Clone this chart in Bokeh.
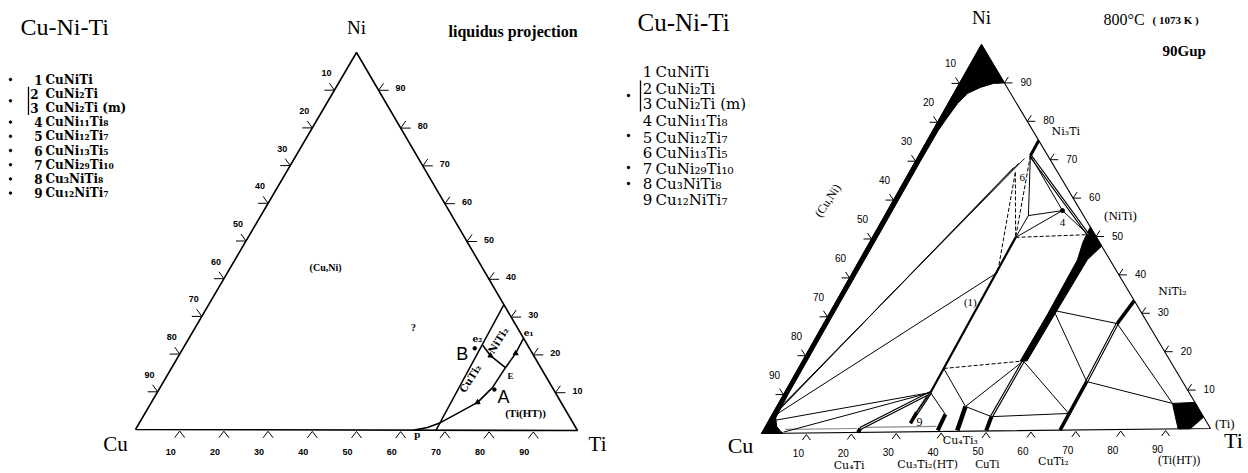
import numpy as np
from bokeh.plotting import figure
from bokeh.models import Range1d
from bokeh.core.properties import value
from bokeh.embed import file_html
from bokeh.resources import INLINE

# ---------------- data (compositions in at.%: (Ni, Ti); Cu = 100 - Ni - Ti) ----------------
TICK_VALUES = [10, 20, 30, 40, 50, 60, 70, 80, 90]

LEGEND_NUMBERS = ["1", "2", "3", "4", "5", "6", "7", "8", "9"]
LEGEND_PHASES = ["CuNiTi", "CuNi₂Ti", "CuNi₂Ti (m)", "CuNi₁₁Ti₈", "CuNi₁₂Ti₇",
                 "CuNi₁₃Ti₅", "CuNi₂₉Ti₁₀", "Cu₃NiTi₈", "Cu₁₂NiTi₇"]
LEFT_BULLET_ROWS = [0, 1.5, 3, 4, 5, 6, 7, 8]
RIGHT_BULLET_ROWS = [1.5, 4, 6, 7]

# --- left panel: liquidus projection ---
LIQ_LINE_NI = [33.3, 0.0]          # NiTi2 - CuTi2 boundary
LIQ_LINE_TI = [66.7, 68.0]
LIQ_P_E_NI = [0.0, 0.7, 2.0, 7.4, 11.3, 16.6]
LIQ_P_E_TI = [63.0, 65.7, 68.0, 73.7, 75.1, 75.4]
LIQ_E_E1_NI = [16.6, 20.4, 24.3]
LIQ_E_E1_TI = [75.4, 75.8, 75.6]
LIQ_E2_E_NI = [22.5, 19.8, 16.6]
LIQ_E2_E_TI = [67.3, 70.4, 75.4]
LIQ_ARROW_NI = [7.4, 20.4, 19.8]
LIQ_ARROW_TI = [73.7, 75.8, 70.4]
LIQ_ALLOY_NI = [21.7, 10.8]        # B, A
LIQ_ALLOY_TI = [65.9, 75.8]
LIQ_LABELS = ["(Cu,Ni)", "?", "B", "A", "E", "e₂", "e₁", "p", "(Ti(HT))"]
LIQ_LABEL_NI = [43.0, 27.2, 20.3, 8.7, 14.3, 24.3, 25.7, -0.9, 4.5]
LIQ_LABEL_TI = [21.5, 49.3, 63.8, 78.9, 77.7, 65.2, 76.1, 64.2, 86.0]
LIQ_ROT_LABELS = ["NiTi₂", "CuTi₂"]
LIQ_ROT_NI = [23.8, 13.7]
LIQ_ROT_TI = [70.2, 68.9]

# --- right panel: 800 °C isothermal section ---
CUNI_BOUND_NI = [90.0, 89.9, 88.9, 87.4, 84.8, 81.2, 77.9, 70, 50, 30, 10, 4.0, 1.8, 0.5, 0.0]
CUNI_BOUND_TI = [10.0, 7.6, 5.2, 3.1, 2.1, 1.6, 1.2, 1.1, 1.1, 1.0, 1.0, 1.2, 2.5, 4.0, 4.8]
B2_NI = [52.5, 47.5, 44.0, 30.0, 18.0, 18.0, 30.0, 44.0, 48.5]
B2_TI = [47.5, 52.5, 51.0, 50.6, 50.3, 48.8, 49.0, 48.8, 47.8]
BTI_NI = [6.6, 6.8, 2.9, 0.0, 0.0, 2.9]
BTI_TI = [88.3, 93.2, 97.0, 95.5, 92.8, 90.8]

THICK_PHASES = [  # (start, end, width)
    ((50.0, 32.1), (10.1, 32.7), 2.2),   # (1) CuNiTi
    ((75.0, 25.0), (71.1, 25.05), 3.0),  # Ni3Ti
    ((33.3, 66.7), (27.4, 65.8), 3.5),   # NiTi2
    ((0.0, 66.5), (12.5, 66.3), 3.5),    # CuTi2
    ((0.0, 21.5), (1.0, 21.5), 4.0),     # Cu4Ti
    ((2.2, 32.1), (5.0, 32.1), 3.5),     # 9
    ((0.3, 39.1), (4.4, 38.8), 4.0),     # Cu3Ti2
    ((0.2, 43.5), (6.4, 42.3), 4.5),     # Cu4Ti3
    ((0.1, 50.0), (3.7, 49.4), 4.0),     # CuTi
]
SOLID_TIES = [
    ((5.0, 1.0), (41.0, 32.5)), ((3.3, 1.0), (10.1, 32.7)), ((0.3, 4.8), (10.1, 32.7)),
    ((10.1, 32.7), (5.0, 32.1)), ((10.1, 32.7), (4.4, 38.8)), ((16.3, 32.6), (6.4, 42.3)),
    ((6.4, 42.3), (3.7, 49.4)), ((18.0, 49.5), (6.4, 42.3)), ((18.0, 49.5), (4.3, 66.3)),
    ((3.7, 49.4), (4.3, 66.3)), ((31.0, 49.9), (27.4, 65.8)), ((31.0, 49.9), (12.5, 66.3)),
    ((12.5, 66.3), (6.6, 88.3)), ((27.4, 65.8), (6.6, 88.3)),
    ((71.1, 25.05), (55.6, 32.2)), ((71.1, 25.05), (56.8, 39.2)), ((56.8, 39.2), (55.6, 32.2)),
    ((56.8, 39.2), (50.0, 32.1)), ((56.8, 39.2), (50.5, 48.0)), ((55.6, 32.2), (50.0, 32.1)),
]
DASHED_TIES = [
    ((16.3, 32.6), (18.0, 49.5)), ((50.0, 32.1), (50.5, 48.0)), ((66.8, 23.8), (41.0, 32.5)),
    ((66.8, 23.8), (50.0, 32.1)), ((71.1, 25.05), (50.0, 32.1)),
]
DOUBLE_TIES = [
    ((10.1, 32.7), (1.0, 21.5)), ((10.1, 32.7), (3.5, 32.1)), ((18.0, 49.5), (3.7, 49.4)),
    ((27.4, 65.8), (12.5, 66.3)), ((71.1, 25.05), (50.5, 48.0)),
]
TRIPLE_TIES = [
    ((6.0, 1.0), (68.1, 22.8)), ((6.5, 1.0), (69.2, 23.4)), ((7.0, 1.0), (70.4, 24.1)),
]
BASE_TIES = [((0.5, 5.0), (0.5, 21.0)), ((0.8, 22.0), (0.8, 38.5))]
PHASE_DOT_NI = [56.8]
PHASE_DOT_TI = [39.2]
SEC_LABELS = ["(1)", "6", "4", "9", "Ni₃Ti", "(NiTi)", "NiTi₂", "(Ti)"]
SEC_LABEL_NI = [33.3, 65.5, 53.7, 2.6, 77.3, 55.4, 35.6, 1.2]
SEC_LABEL_TI = [30.2, 26.0, 40.7, 33.9, 29.9, 52.8, 74.1, 102.6]
BASE_PHASES = ["Cu₄Ti", "Cu₃Ti₂(HT)", "Cu₄Ti₃", "CuTi", "CuTi₂", "(Ti(HT))"]
BASE_PHASE_TI = [19.5, 37.0, 44.3, 50.3, 65.0, 93.0]

# ---------------- layout (pixel positions of triangle corners: Cu, Ni, Ti) ----------------
LEFT_V = [(135, 429), (356, 52), (577, 430)]
RIGHT_V = [(761, 433), (981, 44), (1210, 428)]
SERIF = "Liberation Serif"
SUBSERIF = "DejaVu Serif"
SANS = "Liberation Sans"

W, H = 1248, 473
p = figure(width=W, height=H, x_range=Range1d(0, W), y_range=Range1d(H, 0),
           output_backend="svg", toolbar_location=None, min_border=0)
p.axis.visible = False
p.grid.visible = False
p.outline_line_color = None
p.background_fill_color = "white"


def tern(V, ni, ti):
    ni = np.asarray(ni, dtype=float) / 100.0
    ti = np.asarray(ti, dtype=float) / 100.0
    cu = 1.0 - ni - ti
    x = cu * V[0][0] + ni * V[1][0] + ti * V[2][0]
    y = cu * V[0][1] + ni * V[1][1] + ti * V[2][1]
    return x, y


def txt(x, y, s, size, font=SERIF, style="normal", align="left", baseline="middle", angle=0.0):
    p.text(x=list(np.atleast_1d(x)), y=list(np.atleast_1d(y)), text=list(np.atleast_1d(s)),
           text_font=value(font), text_font_size=f"{size}px", text_font_style=style,
           text_align=align, text_baseline=baseline, angle=angle, text_color="black")


def pairs(V, plist, dx=0.0, dy=0.0):
    xs, ys = [], []
    for (a, b) in plist:
        x, y = tern(V, [a[0], b[0]], [a[1], b[1]])
        xs.append([float(v) + dx for v in x])
        ys.append([float(v) + dy for v in y])
    return xs, ys


def triangle(V, lw):
    x, y = tern(V, [0, 100, 0, 0], [0, 0, 100, 0])
    p.line(list(x), list(y), line_color="black", line_width=lw)


def ticks(V, size, lab_size, lab_font, lab_style, left_off, right_off, base_off):
    xs, ys = [], []
    L, d, h = size
    for v in TICK_VALUES:
        x, y = tern(V, 100 - v, 0)
        x, y = float(x), float(y)
        xs += [[x - L, x], [x - d, x]]
        ys += [[y, y], [y - h, y]]
        txt(x + left_off[0], y + left_off[1], str(v), lab_size, lab_font, lab_style, "center")
        x, y = tern(V, v, 100 - v)
        x, y = float(x), float(y)
        xs += [[x, x + L], [x, x + d]]
        ys += [[y, y], [y, y - h]]
        txt(x + right_off[0], y + right_off[1], str(v), lab_size, lab_font, lab_style, "left")
        x, y = tern(V, 0, v)
        x, y = float(x), float(y)
        xs += [[x - d, x, x + d]]
        ys += [[y + h + 1, y + 1.5, y + h + 1]]
        txt(x + base_off[0], y + base_off[1], str(v), lab_size, lab_font, lab_style, "center")
    p.multi_line(xs, ys, line_color="black", line_width=1)


def has_sub(s):
    return any(ch in s for ch in "₀₁₂₃₄₅₆₇₈₉")


# ================= LEFT PANEL =================
txt(20, 26, "Cu-Ni-Ti", 24)
txt(448, 31, "liquidus projection", 16, style="bold")
rows_l = [79 + 14.2 * i for i in range(9)]
num_x_l = [38, 34, 34, 38, 38, 38, 38, 38, 38]
txt(num_x_l, rows_l, LEGEND_NUMBERS, 12, SUBSERIF, style="bold", align="center")
txt([45] * 9, rows_l, LEGEND_PHASES, 12, SUBSERIF, style="bold")
p.scatter([10] * len(LEFT_BULLET_ROWS), [79 + 14.2 * r for r in LEFT_BULLET_ROWS],
          size=2.5, color="black")
p.line([28, 28], [rows_l[1] - 7, rows_l[2] + 7], line_color="black", line_width=1.3)

triangle(LEFT_V, 1.6)
ticks(LEFT_V, (10, 5, 7), 9, SANS, "bold", (-8, -17), (17, -2), (-9, 22))
cx, cy = LEFT_V[0]; txt(cx - 20, cy + 14, "Cu", 21, align="center")
cx, cy = LEFT_V[2]; txt(cx + 20, cy + 13, "Ti", 21, align="center")
cx, cy = LEFT_V[1]; txt(cx, cy - 25, "Ni", 19, align="center")

for ni, ti, lw in [(LIQ_LINE_NI, LIQ_LINE_TI, 1.5), (LIQ_P_E_NI, LIQ_P_E_TI, 1.6),
                   (LIQ_E_E1_NI, LIQ_E_E1_TI, 1.6), (LIQ_E2_E_NI, LIQ_E2_E_TI, 1.6)]:
    x, y = tern(LEFT_V, ni, ti)
    p.line(list(x), list(y), line_color="black", line_width=lw)
x, y = tern(LEFT_V, LIQ_ARROW_NI, LIQ_ARROW_TI)
p.scatter(list(x), list(y), marker="triangle", size=5, color="black")
x, y = tern(LEFT_V, LIQ_ALLOY_NI, LIQ_ALLOY_TI)
p.scatter(list(x), list(y), size=3.5, color="black")
x, y = tern(LEFT_V, LIQ_LABEL_NI, LIQ_LABEL_TI)
sizes = [10, 10, 18, 18, 9, 9, 9, 11, 11]
fonts = [SERIF, SERIF, SANS, SANS, SERIF, SUBSERIF, SUBSERIF, SERIF, SERIF]
for xi, yi, s, sz, f in zip(x, y, LIQ_LABELS, sizes, fonts):
    txt(float(xi), float(yi), s, sz, f, "normal" if f == SANS else "bold", "center")
x, y = tern(LEFT_V, LIQ_ROT_NI, LIQ_ROT_TI)
for xi, yi, s in zip(x, y, LIQ_ROT_LABELS):
    txt(float(xi), float(yi), s, 10, SUBSERIF, "bold", "center", angle=1.0)

# ================= RIGHT PANEL =================
txt(637, 22, "Cu-Ni-Ti", 25)
txt(1103, 19, "800°C", 16)
txt(1152, 19, "( 1073 K )", 11, style="bold")
txt(1162, 50, "90Gup", 15, style="bold")
rows_r = [71, 88, 103, 120, 137, 152, 168, 183, 199]
txt([647] * 9, rows_r, LEGEND_NUMBERS, 15, SUBSERIF, align="center")
txt([655] * 9, rows_r, LEGEND_PHASES, 15, SUBSERIF)
p.scatter([628] * len(RIGHT_BULLET_ROWS), [71 + 16 * r for r in RIGHT_BULLET_ROWS],
          size=2.5, color="black")
p.line([640, 640], [rows_r[1] - 8, rows_r[2] + 8], line_color="black", line_width=1.3)

# filled solid-solution regions
bx, by = tern(RIGHT_V, [100] + CUNI_BOUND_NI + [0], [0] + CUNI_BOUND_TI + [0])
p.patch(list(bx), list(by), fill_color="black", line_color="black", line_width=1)
bx, by = tern(RIGHT_V, B2_NI, B2_TI)
p.patch(list(bx), list(by), fill_color="black", line_color="black", line_width=1)
bx, by = tern(RIGHT_V, BTI_NI, BTI_TI)
p.patch(list(bx), list(by), fill_color="black", line_color="black", line_width=1)

triangle(RIGHT_V, 1.1)
ticks(RIGHT_V, (8, 4, 6), 10, SANS, "normal", (-9, -20), (16, -1), (-8, 20))
cx, cy = RIGHT_V[0]; txt(cx - 21, cy + 12, "Cu", 22, align="center")
cx, cy = RIGHT_V[2]; txt(cx + 23, cy + 12, "Ti", 22, align="center")
cx, cy = RIGHT_V[1]; txt(cx, cy - 27, "Ni", 19, align="center")

xs, ys = pairs(RIGHT_V, BASE_TIES, dy=-2)
p.multi_line(xs, ys, line_color="#8a8a8a", line_width=1.2)
xs, ys = pairs(RIGHT_V, TRIPLE_TIES)
p.multi_line(xs, ys, line_color="black", line_width=0.9)
xs, ys = pairs(RIGHT_V, DOUBLE_TIES)
p.multi_line(xs, ys, line_color="black", line_width=3.2)
p.multi_line(xs, ys, line_color="white", line_width=1.0)
xs, ys = pairs(RIGHT_V, SOLID_TIES)
p.multi_line(xs, ys, line_color="black", line_width=1.0)
xs, ys = pairs(RIGHT_V, DASHED_TIES)
p.multi_line(xs, ys, line_color="black", line_width=1.0, line_dash="4 2")
for a, b, w in THICK_PHASES:
    x, y = tern(RIGHT_V, [a[0], b[0]], [a[1], b[1]])
    p.line(list(x), list(y), line_color="black", line_width=w)
x, y = tern(RIGHT_V, PHASE_DOT_NI, PHASE_DOT_TI)
p.scatter(list(x), list(y), size=4, color="black")

x, y = tern(RIGHT_V, SEC_LABEL_NI, SEC_LABEL_TI)
sizes = [11, 11, 11, 12, 11, 13, 11, 13]
for xi, yi, s, sz in zip(x, y, SEC_LABELS, sizes):
    txt(float(xi), float(yi), s, sz, SUBSERIF if has_sub(s) else SERIF, "normal", "center")
x, y = tern(RIGHT_V, [60.1], [-14.7])
txt(float(x[0]), float(y[0]), "(Cu,Ni)", 12, SERIF, "normal", "center", angle=0.98)
x, y = tern(RIGHT_V, [0] * len(BASE_PHASE_TI), BASE_PHASE_TI)
offs = [33, 33, 9, 33, 31, 31]
for xi, yi, s, o in zip(x, y, BASE_PHASES, offs):
    txt(float(xi), float(yi) + o, s, 11 if has_sub(s) else 12,
        SUBSERIF if has_sub(s) else SERIF, "normal", "center")

open("out.html", "w").write(file_html(p, INLINE))
